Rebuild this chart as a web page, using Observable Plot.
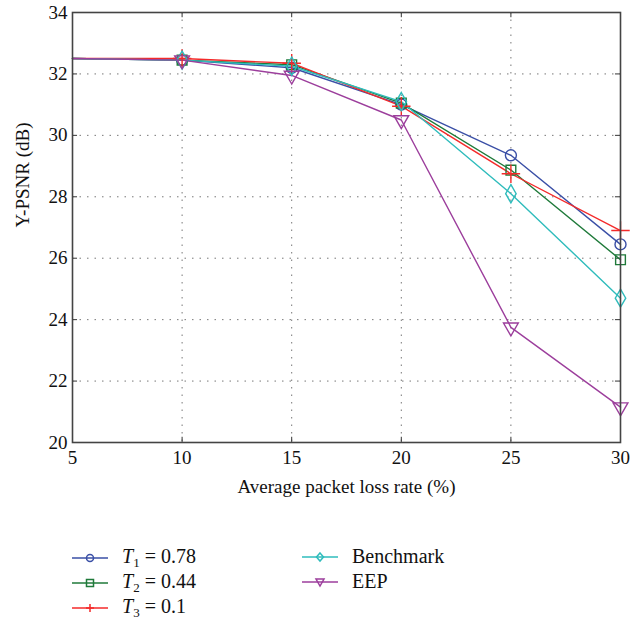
<!DOCTYPE html>
<html><head><meta charset="utf-8">
<script src="https://cdn.jsdelivr.net/npm/d3@7"></script>
<script src="https://cdn.jsdelivr.net/npm/@observablehq/plot@0.6"></script>
<style>
body{margin:0;background:#fff;font-family:"Liberation Serif","DejaVu Serif",serif;}
#legend{position:relative;height:113px;}
.item{position:absolute;display:flex;align-items:center;font-size:20px;color:#111;}
.item svg{margin-right:14px;}
sub{font-size:13px;vertical-align:-4px;font-style:normal;}
</style></head>
<body><div id="chart"></div><div id="legend"></div>
<script>
const lossRate = [5, 10, 15, 20, 25, 30];
const seriesNames = ["T1 = 0.78", "T2 = 0.44", "T3 = 0.1", "Benchmark", "EEP"];
const t1 = [32.5, 32.45, 32.2, 31.0, 29.35, 26.45];
const t2 = [32.5, 32.45, 32.3, 31.05, 28.87, 25.95];
const t3 = [32.5, 32.5, 32.35, 30.95, 28.75, 26.9];
const benchmark = [32.5, 32.45, 32.25, 31.1, 28.1, 24.7];
const eep = [32.5, 32.45, 31.95, 30.5, 23.75, 21.15];
const xTicks = [5, 10, 15, 20, 25, 30];
const yTicks = [20, 22, 24, 26, 28, 30, 32, 34];
const xLabel = "Average packet loss rate (%)";
const yLabel = "Y-PSNR (dB)";

const colors = ["#3a4fa6", "#1f7a3a", "#f42a2a", "#2fbcbc", "#9c3e9c"];
const symbols = ["circle", "square", "plus", "diamond", "triangle"];
const rotates = [0, 0, 0, 0, 180];
const allVals = [t1, t2, t3, benchmark, eep];
const FONT = "Liberation Serif";

const data = [];
allVals.forEach((vals, s) => vals.forEach((v, i) => data.push({series: seriesNames[s], s, x: lossRate[i], y: v})));
const markerData = data.filter(d => d.x !== 5);

const marks = [
  Plot.gridX(xTicks, {stroke: "#777", strokeOpacity: 1, strokeDasharray: "1.5,6"}),
  Plot.gridY(yTicks, {stroke: "#777", strokeOpacity: 1, strokeDasharray: "1.5,6"}),
  Plot.ruleX(xTicks, {x: d => d, y1: 20, y2: 20.17, stroke: "#333"}),
  Plot.ruleX(xTicks, {x: d => d, y1: 33.83, y2: 34, stroke: "#333"}),
  Plot.ruleY(yTicks, {y: d => d, x1: 5, x2: 5.23, stroke: "#333"}),
  Plot.ruleY(yTicks, {y: d => d, x1: 29.77, x2: 30, stroke: "#333"}),
  Plot.axisX(xTicks, {tickSize: 0, tickPadding: 8, fontSize: 19, fontFamily: FONT, label: null}),
  Plot.axisY(yTicks, {tickSize: 0, tickPadding: 5, fontSize: 19, fontFamily: FONT, label: null}),
  Plot.text([xLabel], {text: d => d, frameAnchor: "bottom", dy: 50, fontSize: 19, fontFamily: FONT, fill: "#111"}),
  Plot.text([yLabel], {text: d => d, frameAnchor: "left", dx: -50, rotate: -90, fontSize: 19, fontFamily: FONT, fill: "#111"}),
];
allVals.forEach((vals, s) => {
  const d = data.filter(e => e.s === s);
  marks.push(Plot.line(d, {x: "x", y: "y", stroke: colors[s], strokeWidth: 1.4}));
});
allVals.forEach((vals, s) => {
  const d = markerData.filter(e => e.s === s);
  marks.push(Plot.dot(d, {x: "x", y: "y", stroke: colors[s], symbol: () => symbols[s], rotate: rotates[s], r: s === 2 ? 6 : 5.5, strokeWidth: 1.4, fill: "none"}));
});
marks.push(Plot.frame({stroke: "#444", strokeWidth: 1.6}));

const chart = Plot.plot({
  width: 644, height: 512,
  marginLeft: 72, marginRight: 24, marginTop: 12, marginBottom: 70,
  style: {fontFamily: FONT, fontSize: "17px", color: "#111", background: "#fff"},
  x: {domain: [5, 30], label: null},
  y: {domain: [20, 34], label: null},
  marks
});
document.getElementById("chart").appendChild(chart);

// legend
const legend = document.getElementById("legend");
const pos = [[72, 45], [72, 70], [72, 95], [302, 45], [302, 70]];
const labelsHTML = [
  "<i>T</i><sub>1</sub>&nbsp;= 0.78",
  "<i>T</i><sub>2</sub>&nbsp;= 0.44",
  "<i>T</i><sub>3</sub>&nbsp;= 0.1",
  "Benchmark",
  "EEP"
];
const symPaths = {
  circle: '<circle cx="18" cy="9" r="3.5"/>',
  square: '<rect x="14.5" y="5.5" width="7" height="7"/>',
  plus: '<path d="M18 5V13M14 9H22"/>',
  diamond: '<path d="M18 5L21.5 9L18 13L14.5 9Z"/>',
  triangle: '<path d="M14 6H22L18 13Z"/>'
};
seriesNames.forEach((n, s) => {
  const div = document.createElement("div");
  div.className = "item";
  div.style.left = pos[s][0] + "px";
  div.style.top = (pos[s][1] - 12) + "px";
  div.innerHTML = `<svg width="36" height="18" fill="none" stroke="${colors[s]}" stroke-width="1.5"><line x1="0" y1="9" x2="36" y2="9"/>${symPaths[symbols[s]]}</svg><span>${labelsHTML[s]}</span>`;
  legend.appendChild(div);
});
</script></body></html>
